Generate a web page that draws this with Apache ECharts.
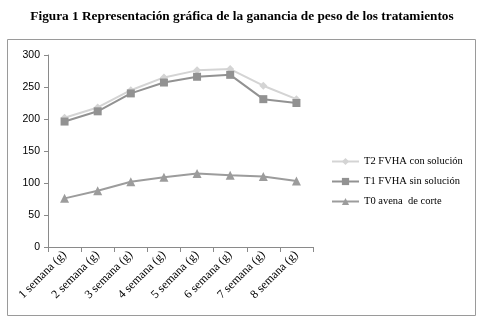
<!DOCTYPE html>
<html><head><meta charset="utf-8">
<script src="https://cdn.jsdelivr.net/npm/echarts@6/dist/echarts.min.js"></script>
<style>html,body{margin:0;padding:0;background:#fff}#c{width:484px;height:322px}</style>
</head><body><div id="c"></div>
<script>
var categories = ['1 semana (g)','2 semana (g)','3 semana (g)','4 semana (g)','5 semana (g)','6 semana (g)','7 semana (g)','8 semana (g)'];
var t2 = [202, 218, 245, 265, 276, 278, 252, 231];
var t1 = [196, 212, 240, 257, 266, 269, 231, 225];
var t0 = [76, 88, 102, 109, 115, 112, 110, 103];
var yTicks = [0, 50, 100, 150, 200, 250, 300];
var names = ['T2 FVHA con solución', 'T1 FVHA sin solución', 'T0 avena  de corte'];

var chart = echarts.init(document.getElementById('c'), null, {renderer:'canvas'});
chart.setOption({
  animation: false,
  title: {
    text: 'Figura 1 Representación gráfica de la ganancia de peso de los tratamientos',
    left: 'center', top: 5,
    textStyle: {fontFamily: 'Liberation Serif', fontWeight: 'bold', fontSize: 13.3, color: '#000'}
  },
  graphic: [{
    type: 'rect', shape: {x: 7.5, y: 39.5, width: 468, height: 276},
    style: {fill: 'none', stroke: '#9a9a9a', lineWidth: 1}, z: -1
  }],
  grid: {left: 48, right: 171, top: 55, bottom: 75},
  legend: {
    orient: 'vertical', left: 326, top: 151, itemGap: 9, itemWidth: 27, itemHeight: 9,
    textStyle: {fontFamily: 'Liberation Serif', fontSize: 10.5, color: '#000'},
    data: names
  },
  xAxis: {
    type: 'category', data: categories, boundaryGap: true,
    axisLine: {lineStyle: {color: '#8a8a8a', width: 1}},
    axisTick: {show: true, interval: 0, length: 5, lineStyle: {color: '#8a8a8a'}},
    axisLabel: {interval: 0, rotate: 45, fontFamily: 'Liberation Serif', fontSize: 12, color: '#000', margin: 6}
  },
  yAxis: {
    type: 'value', min: yTicks[0], max: yTicks[yTicks.length-1], interval: 50,
    axisLine: {show: true, lineStyle: {color: '#8a8a8a', width: 1}},
    axisTick: {show: true, length: 4, lineStyle: {color: '#8a8a8a'}},
    splitLine: {show: false},
    axisLabel: {fontFamily: 'Liberation Sans', fontSize: 10.5, color: '#000', margin: 8}
  },
  series: [
    {name: names[0], type: 'line', data: t2, symbol: 'diamond', symbolSize: 8,
     lineStyle: {color: '#d4d4d4', width: 2}, itemStyle: {color: '#d4d4d4'}},
    {name: names[1], type: 'line', data: t1, symbol: 'rect', symbolSize: 8,
     lineStyle: {color: '#929292', width: 2}, itemStyle: {color: '#929292'}},
    {name: names[2], type: 'line', data: t0, symbol: 'triangle', symbolSize: 9,
     lineStyle: {color: '#9c9c9c', width: 2}, itemStyle: {color: '#9c9c9c'}}
  ]
});
</script></body></html>
